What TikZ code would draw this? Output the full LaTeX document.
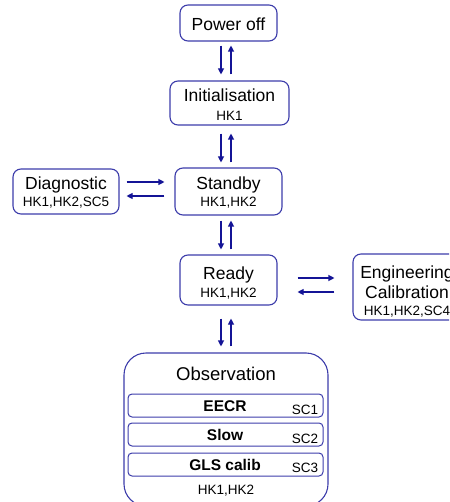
\documentclass[tikz,border=0pt]{standalone}
\usepackage{fontspec}
\setmainfont{Liberation Sans}
\usetikzlibrary{arrows.meta}
\definecolor{boxc}{RGB}{60,60,170}
\definecolor{arrc}{RGB}{20,20,150}
\tikzset{
  statebox/.style={draw=boxc, line width=1.1pt, rounded corners=8pt, inner sep=0pt},
  subbox/.style={draw=boxc, line width=1pt, rounded corners=4pt, inner sep=0pt},
  bigtxt/.style={font=\fontsize{17.5}{20}\selectfont, anchor=base, inner sep=0pt},
  smalltxt/.style={font=\fontsize{13.5}{16}\selectfont, anchor=base, inner sep=0pt},
  boldtxt/.style={font=\fontsize{15.5}{18}\selectfont\bfseries, anchor=base, inner sep=0pt},
  arr/.style={draw=arrc, line width=1.1pt, -{Triangle[length=6pt,width=6pt]}},
}
\begin{document}
\begin{tikzpicture}[x=1pt,y=-1pt]
\useasboundingbox (0,0) rectangle (449,502);
\clip (0,0) rectangle (449,502);
% boxes
\node[statebox, minimum width=97pt, minimum height=36pt] (pw) at (228.5,23) {};
\node[statebox, minimum width=119pt, minimum height=44pt] (init) at (229.5,103) {};
\node[statebox, minimum width=107pt, minimum height=47pt] (stb) at (228.5,191.5) {};
\node[statebox, minimum width=106pt, minimum height=45pt] (diag) at (66,191.5) {};
\node[statebox, minimum width=97pt, minimum height=50pt] (ready) at (228.5,280) {};
\node[statebox, minimum width=108pt, minimum height=66pt] (eng) at (407,287) {};
\node[statebox, rounded corners=22pt, minimum width=204pt, minimum height=153pt] (obs) at (226,429.5) {};
\node[subbox, minimum width=195pt, minimum height=23pt] (eecr) at (225.5,405.5) {};
\node[subbox, minimum width=195pt, minimum height=23pt] (slow) at (225.5,434.5) {};
\node[subbox, minimum width=195pt, minimum height=23pt] (gls) at (225.5,464.5) {};
% texts
\node[bigtxt] (pwt) at (228.5,30.5) {Power off};
\node[bigtxt] (initt) at (229.5,102) {Initialisation};
\node[smalltxt] (inits) at (229.5,120.5) {HK1};
\node[bigtxt] (stbt) at (228.5,189.3) {Standby};
\node[smalltxt] (stbs) at (228.5,206.7) {HK1,HK2};
\node[bigtxt] (diagt) at (66,189.3) {Diagnostic};
\node[smalltxt] (diags) at (66,206.7) {HK1,HK2,SC5};
\node[bigtxt] (readyt) at (228.5,279) {Ready};
\node[smalltxt] (readys) at (228.5,297.3) {HK1,HK2};
\node[bigtxt] (engt) at (407,278.3) {Engineering};
\node[bigtxt] (engt2) at (407,298.3) {Calibration};
\node[smalltxt] (engs) at (407,315) {HK1,HK2,SC4};
\node[bigtxt, font=\fontsize{18.5}{21}\selectfont] (obst) at (226,380) {Observation};
\node[boldtxt] (eecrt) at (225,411.7) {EECR};
\node[boldtxt] (slowt) at (225,440.7) {Slow};
\node[boldtxt] (glst) at (225,470) {GLS calib};
\node[smalltxt] (sc1) at (305,414) {SC1};
\node[smalltxt] (sc2) at (305,443.5) {SC2};
\node[smalltxt] (sc3) at (305,472.5) {SC3};
\node[smalltxt] (obss) at (226,494) {HK1,HK2};
% vertical arrows
\draw[arr] ([xshift=-7.5pt,yshift=-4pt]pw.south) -- ([xshift=-7.5pt,yshift=6pt]init.north -| pw.south);
\draw[arr] ([xshift=2.5pt,yshift=6pt]init.north -| pw.south) -- ([xshift=2.5pt,yshift=-4pt]pw.south);
\draw[arr] ([xshift=-7.5pt,yshift=-8pt]init.south -| stb.north) -- ([xshift=-7.5pt,yshift=5pt]stb.north);
\draw[arr] ([xshift=2.5pt,yshift=5pt]stb.north) -- ([xshift=2.5pt,yshift=-8pt]init.south -| stb.north);
\draw[arr] ([xshift=-7.5pt,yshift=-5pt]stb.south) -- ([xshift=-7.5pt,yshift=5pt]ready.north);
\draw[arr] ([xshift=2.5pt,yshift=5pt]ready.north) -- ([xshift=2.5pt,yshift=-5pt]stb.south);
\draw[arr] ([xshift=-7.5pt,yshift=-13pt]ready.south) -- ([xshift=-5pt,yshift=6pt]obs.north);
\draw[arr] ([xshift=5pt,yshift=6pt]obs.north) -- ([xshift=2.5pt,yshift=-13pt]ready.south);
% horizontal arrows
\draw[arr] ([xshift=7pt,yshift=9.5pt]diag.east) -- ([xshift=-10pt,yshift=9.5pt]stb.west);
\draw[arr] ([xshift=-10pt,yshift=-4.5pt]stb.west) -- ([xshift=7pt,yshift=-4.5pt]diag.east);
\draw[arr] ([xshift=20pt,yshift=2pt]ready.east) -- ([xshift=-18pt,yshift=9pt]eng.west);
\draw[arr] ([xshift=-18pt,yshift=-5pt]eng.west) -- ([xshift=20pt,yshift=-12pt]ready.east);
\end{tikzpicture}
\end{document}
